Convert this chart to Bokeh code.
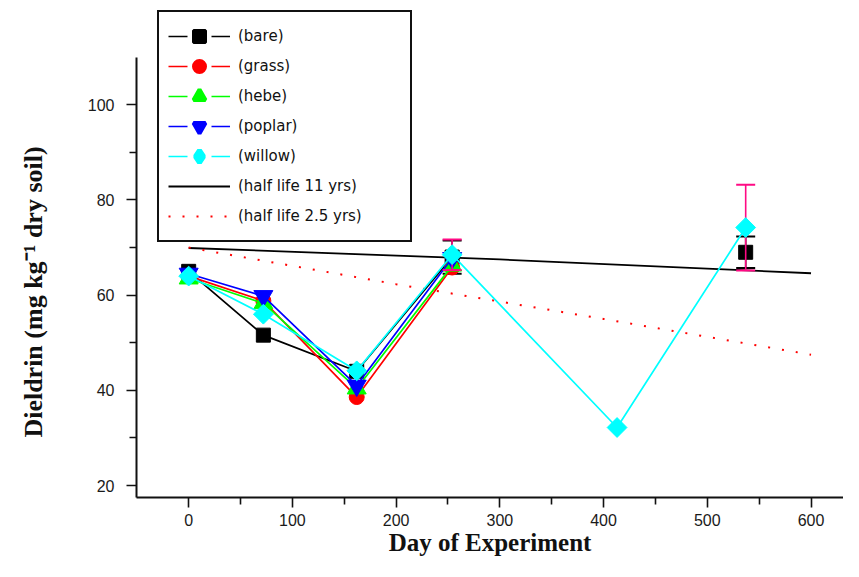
import math
import numpy as np
from bokeh.plotting import figure
from bokeh.models import Legend, LegendItem, Range1d, FixedTicker
from bokeh.embed import file_html
from bokeh.resources import INLINE

nan = float("nan")

# ---- data ----
days = [0, 72, 162, 254, 413, 537]
bare = [65.0, 51.6, 44.0, 68.0, nan, 69.0]
grass = [64.0, 58.8, 38.6, 65.8, nan, nan]
hebe = [63.5, 58.3, 40.4, 66.2, nan, nan]
poplar = [64.5, 59.8, 41.0, 67.8, nan, nan]
willow = [64.0, 56.0, 44.1, 68.5, 32.2, 74.2]

bare_err = [nan, nan, nan, 3.5, nan, 3.3]
willow_err = [nan, nan, nan, 3.2, nan, 9.0]

hl11_days = [0, 300, 600]
hl11_vals = [69.9, 67.5, 64.6]
hl25_days = [0, 200, 400, 600]
hl25_vals = [70.0, 62.3, 55.0, 47.5]

x_ticks = [0, 100, 200, 300, 400, 500, 600]
x_minor = [50, 150, 250, 350, 450, 550, 650]
y_ticks = [20, 40, 60, 80, 100]
y_minor = [30, 50, 70, 90]

series_names = ["(bare)", "(grass)", "(hebe)", "(poplar)", "(willow)"]
hl_names = ["(half life 11 yrs)", "(half life 2.5 yrs)"]
x_title = "Day of Experiment"
y_title = "Dieldrin (mg kg\u207b\u00b9 dry soil)"

# ---- figure ----
p = figure(width=843, height=561, x_range=Range1d(-50.3, 631.3), y_range=Range1d(17.5, 120.2),
           output_backend="svg", toolbar_location=None,
           min_border_left=136, min_border_right=0, min_border_top=8, min_border_bottom=64)
p.outline_line_color = None
p.xgrid.visible = False
p.ygrid.visible = False
p.background_fill_color = "white"

for ax in (p.xaxis[0], p.yaxis[0]):
    ax.axis_line_width = 2
    ax.axis_line_color = "#111111"
    ax.major_tick_line_width = 1.6
    ax.minor_tick_line_width = 1.6
    ax.major_tick_line_color = "#111111"
    ax.minor_tick_line_color = "#111111"
    ax.major_tick_in = 0
    ax.major_tick_out = 10
    ax.minor_tick_in = 0
    ax.minor_tick_out = 7
    ax.major_label_text_font = "Liberation Sans"
    ax.major_label_text_font_size = "16px"
    ax.major_label_text_color = "#1a1a1a"
    ax.axis_label_text_font = "Liberation Serif"
    ax.axis_label_text_font_style = "bold"
    ax.axis_label_text_color = "#111111"

p.xaxis[0].ticker = FixedTicker(ticks=x_ticks, minor_ticks=x_minor)
p.yaxis[0].ticker = FixedTicker(ticks=y_ticks, minor_ticks=y_minor)
p.yaxis[0].bounds = (17.5, 110)
p.xaxis[0].major_label_standoff = 6
p.yaxis[0].major_label_standoff = 12

p.xaxis[0].axis_label = x_title
p.xaxis[0].axis_label_text_font_size = "25px"
p.xaxis[0].axis_label_standoff = 0

# non-breaking spaces after the title move it down along the (taller) frame
p.yaxis[0].axis_label = y_title + "\u00a0" * 12
p.yaxis[0].axis_label_text_font_size = "26px"
p.yaxis[0].axis_label_standoff = 37

colors = ["#000000", "#FF0000", "#00FF00", "#0000FF", "#00FFFF"]
markers = ["square", "circle", "triangle", "inverted_triangle", "square"]
legend_markers = ["square", "circle", "triangle", "inverted_triangle", "diamond"]
legend_outline = [3, 3, 4, 4, 5]
sizes = [14, 15, 19, 19, 14]
angles = [0, 0, 0, 0, math.pi / 4]
values_list = [bare, grass, hebe, poplar, willow]
err_color = {0: "#000000", 4: "#FF0A84"}
errs = {0: bare_err, 4: willow_err}

x = np.array(days, dtype=float)

# half-life curves (drawn first, under data)
hl11 = p.line(np.array(hl11_days, float), np.array(hl11_vals, float), line_color="black", line_width=1.8)
hl25 = p.line(np.array(hl25_days, float), np.array(hl25_vals, float), line_color="red",
              line_width=2, line_dash="2 12")

items = []
for i, name in enumerate(series_names):
    y = np.array(values_list[i], dtype=float)
    c = colors[i]
    p.line(x, y, line_color=c, line_width=1.7)
    if i in errs:
        e = np.array(errs[i], dtype=float)
        lo = y - e
        hi = y + e
        ec = err_color[i]
        p.segment(x0=x, y0=lo, x1=x, y1=hi, line_color=ec, line_width=1.6)
        p.scatter(x, hi, marker="dash", size=19, line_color=ec, line_width=2)
        p.scatter(x, lo, marker="dash", size=19, line_color=ec, line_width=2)
    p.scatter(x, y, marker=markers[i], size=sizes[i], angle=angles[i],
              fill_color=c, line_color=c)
    # legend-only glyphs (one non-finite point, never drawn in the plot)
    leg_line = p.line(np.array([nan]), np.array([nan]), line_color=c, line_width=1.5, line_dash="19 24")
    leg_mark = p.scatter(np.array([nan]), np.array([nan]), marker=legend_markers[i], size=14,
                         fill_color=c, line_color=c, line_width=legend_outline[i])
    items.append(LegendItem(label=name, renderers=[leg_line, leg_mark]))

items.append(LegendItem(label=hl_names[0], renderers=[hl11]))
items.append(LegendItem(label=hl_names[1], renderers=[hl25]))

legend = Legend(items=items, location=(21, 255),
                glyph_height=30, glyph_width=62, label_height=30, label_width=163,
                label_standoff=8, spacing=0, padding=9,
                border_line_color="#111111", border_line_width=2, border_line_alpha=1.0,
                background_fill_color="white", background_fill_alpha=1.0,
                label_text_font="DejaVu Sans", label_text_font_size="15px",
                label_text_color="#111111")
p.add_layout(legend)

open("out.html", "w").write(file_html(p, INLINE))
